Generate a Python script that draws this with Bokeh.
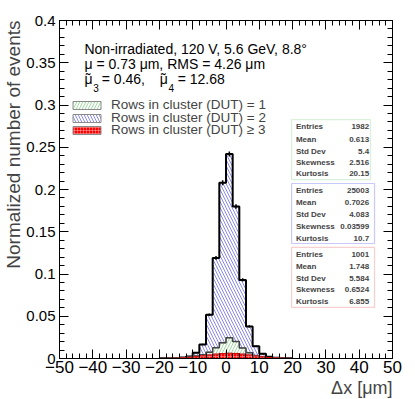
import numpy as np
from bokeh.plotting import figure
from bokeh.models import (Range1d, LinearAxis, SingleIntervalTicker, CustomJSTickFormatter,
                          Title, Legend, LegendItem, Label, BoxAnnotation)
from bokeh.embed import file_html
from bokeh.resources import INLINE

# ---------------- data ----------------
bin_centers = [-19, -17, -15, -13, -11, -9, -7, -5, -3, -1, 1, 3, 5, 7, 9, 11, 13, 15, 17, 19]
bin_width = 2.0
dut2 = [0.0002, 0.0003, 0.0006, 0.0012, 0.0025, 0.0067, 0.0166, 0.0517, 0.119, 0.208,
        0.242, 0.180, 0.093, 0.038, 0.0146, 0.0056, 0.0022, 0.0010, 0.0005, 0.0003]
dut1 = [0.0002, 0.0003, 0.0005, 0.0010, 0.0016, 0.0030, 0.0045, 0.0075, 0.0128, 0.0185,
        0.0245, 0.0200, 0.0125, 0.0068, 0.0035, 0.0018, 0.0010, 0.0006, 0.0004, 0.0002]
dut3 = [0.0001, 0.0002, 0.0004, 0.0008, 0.0014, 0.0022, 0.0032, 0.0042, 0.0052, 0.0058,
        0.0062, 0.0060, 0.0052, 0.0042, 0.0030, 0.0020, 0.0012, 0.0007, 0.0004, 0.0002]

legend_labels = ["Rows in cluster (DUT) = 1", "Rows in cluster (DUT) = 2", "Rows in cluster (DUT) \u2265 3"]
stat_names = ["Entries", "Mean", "Std Dev", "Skewness", "Kurtosis"]
stat_dut1 = ["1982", "0.613", "5.4", "2.516", "20.15"]
stat_dut2 = ["25003", "0.7026", "4.083", "0.03599", "10.7"]
stat_dut3 = ["1001", "1.748", "5.584", "0.6524", "6.855"]
entries_dut2 = 25003

FONT = "Liberation Sans"


def step_polygon(centers, vals, w):
    xs, ys = [centers[0] - w / 2], [0.0]
    for c, v in zip(centers, vals):
        xs += [c - w / 2, c + w / 2]
        ys += [v, v]
    xs.append(centers[-1] + w / 2)
    ys.append(0.0)
    return xs, ys


p = figure(width=415, height=399, x_range=Range1d(-50, 50), y_range=Range1d(0, 0.4),
           output_backend="svg", toolbar_location=None,
           min_border_left=58, min_border_right=23, min_border_top=20, min_border_bottom=41)
p.xgrid.visible = False
p.ygrid.visible = False
p.outline_line_color = "black"
p.outline_line_width = 1
p.background_fill_color = "white"
p.border_fill_color = "white"

xt = SingleIntervalTicker(interval=10, num_minor_ticks=5)
yt = SingleIntervalTicker(interval=0.05, num_minor_ticks=5)
xfmt = CustomJSTickFormatter(code="return tick < 0 ? '\u2212' + Math.abs(tick) : String(tick);")
yfmt = CustomJSTickFormatter(code="return String(Number(tick.toFixed(3)));")

for ax, tk, fm in ((p.xaxis[0], xt, xfmt), (p.yaxis[0], yt, yfmt)):
    ax.ticker = tk
    ax.formatter = fm
    ax.major_tick_in = 9
    ax.major_tick_out = 0
    ax.minor_tick_in = 5
    ax.minor_tick_out = 0
    ax.major_label_text_font = FONT
    ax.major_label_text_color = "black"
    ax.axis_line_color = "black"
    ax.major_tick_line_color = "black"
    ax.minor_tick_line_color = "black"
p.xaxis.major_label_text_font_size = "17px"
p.yaxis.major_label_text_font_size = "15px"
p.xaxis.major_label_standoff = 2
p.yaxis.major_label_standoff = 4

for side, tk in (("above", SingleIntervalTicker(interval=10, num_minor_ticks=5)),
                 ("right", SingleIntervalTicker(interval=0.05, num_minor_ticks=5))):
    ax = LinearAxis(ticker=tk, major_label_text_font_size="0px", major_label_standoff=0,
                    major_tick_in=9, major_tick_out=0, minor_tick_in=5, minor_tick_out=0,
                    axis_line_color="black", major_tick_line_color="black",
                    minor_tick_line_color="black")
    p.add_layout(ax, side)

p.add_layout(Title(text="\u0394x [\u03bcm]", align="right", text_font=FONT, text_font_size="18px",
                   text_font_style="normal", standoff=0, offset=0), "below")
p.add_layout(Title(text="Normalized number of events", align="right", text_font=FONT,
                   text_font_size="19px", text_font_style="normal", standoff=0, offset=0), "left")

# ---------------- histograms ----------------
x2, y2 = step_polygon(bin_centers, dut2, bin_width)
x1, y1 = step_polygon(bin_centers, dut1, bin_width)
x3, y3 = step_polygon(bin_centers, dut3, bin_width)

key_line = dict(line_color="#8a8a8a", line_width=1)   # look of the legend key boxes
r2 = p.patch(x2, y2, fill_color="white", hatch_pattern="left_diagonal_line", hatch_color="#6a6ae6",
             hatch_scale=6, hatch_weight=0.8, **key_line)
p.line(x2, y2, line_color="black", line_width=2)
err = np.sqrt(np.array(dut2) * sum(dut2) / entries_dut2)
p.segment(bin_centers, np.array(dut2) - err, bin_centers, np.array(dut2) + err,
          line_color="black", line_width=1.5)
r1 = p.patch(x1, y1, fill_color="white", hatch_pattern="right_diagonal_line", hatch_color="#86d486",
             hatch_scale=6, hatch_weight=0.8, **key_line)
p.line(x1, y1, line_color="#444444", line_width=1.5)
r3 = p.patch(x3, y3, fill_color="#ff0000", hatch_pattern="cross", hatch_color="#ff9a9a",
             hatch_scale=3, hatch_weight=0.6, **key_line)
p.line(x3, y3, line_color="#e00000", line_width=1)

for lab, rend, yloc in zip(legend_labels, (r1, r2, r3), (246, 233, 221)):
    lg = Legend(items=[LegendItem(label=lab, renderers=[rend])],
                location=(10, yloc), orientation="vertical", border_line_alpha=0,
                background_fill_alpha=0, padding=0, margin=0, spacing=0,
                glyph_width=35, glyph_height=10, label_height=10, label_standoff=7,
                label_text_font=FONT, label_text_font_size="13.5px")
    p.add_layout(lg)

# ---------------- header text ----------------
txt = dict(text_font=FONT, text_color="black", text_baseline="alphabetic", text_align="left")
p.add_layout(Label(x=-42.5, y=0.3667, text="Non-irradiated, 120 V, 5.6 GeV, 8.8\u00b0",
                   text_font_size="14px", **txt))
p.add_layout(Label(x=-42.5, y=0.3488, text="\u03bc = 0.73 \u03bcm, RMS = 4.26 \u03bcm",
                   text_font_size="14px", **txt))
for mx, sx, sub, ex, rest in ((-42.5, -39.9, "3", -37.3, "= 0.46,"),
                              (-19.9, -17.3, "4", -14.5, "= 12.68")):
    p.add_layout(Label(x=mx, y=0.331, text="\u03bc", text_font_size="14px", **txt))
    p.add_layout(Label(x=mx + 0.4, y=0.331, text="\u02dc", text_font_size="14px", **txt))
    p.add_layout(Label(x=sx, y=0.3204, text=sub, text_font_size="10px", **txt))
    p.add_layout(Label(x=ex, y=0.331, text=rest, text_font_size="14px", **txt))

# ---------------- stat boxes ----------------
boxes = [
    (stat_dut1, "#80d080", 19.7, 43.4, 0.2828, 0.2118, [0.2749, 0.2595, 0.2453, 0.2320, 0.2186]),
    (stat_dut2, "#5050f0", 19.7, 44.6, 0.2071, 0.1361, [0.1988, 0.1850, 0.1708, 0.1566, 0.1424]),
    (stat_dut3, "#f06060", 19.7, 44.6, 0.1314, 0.0604, [0.1231, 0.1089, 0.0950, 0.0813, 0.0671]),
]
for vals, col, l, r, t, b, rows in boxes:
    p.add_layout(BoxAnnotation(left=l, right=r, top=t, bottom=b, fill_color="white", fill_alpha=1,
                               line_color=col, line_width=1.2, level="annotation"))
    for name, v, yy in zip(stat_names, vals, rows):
        p.add_layout(Label(x=l + 1.3, y=yy, text=name, text_font=FONT, text_font_size="8px",
                           text_font_style="bold", text_baseline="middle", text_align="left"))
        p.add_layout(Label(x=43.0, y=yy, text=v, text_font=FONT, text_font_size="8px",
                           text_font_style="bold", text_baseline="middle", text_align="right"))

open("out.html", "w").write(file_html(p, INLINE))
